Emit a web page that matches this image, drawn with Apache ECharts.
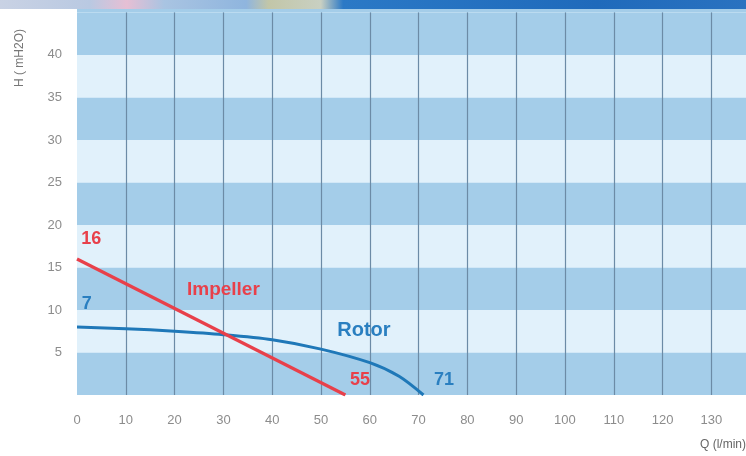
<!DOCTYPE html>
<html>
<head>
<meta charset="utf-8">
<script src="https://cdn.jsdelivr.net/npm/echarts@6/dist/echarts.min.js"></script>
<style>
html,body{margin:0;padding:0;background:#fff;}
#c{width:746px;height:456px;}
</style>
</head>
<body>
<div id="c"></div>
<script>
// ---- data ----
var xTicks = [0,10,20,30,40,50,60,70,80,90,100,110,120,130];
var yTicks = [5,10,15,20,25,30,35,40];
var impellerQ = [0, 55];
var impellerH = [16, 0];
var rotorQ = [0, 10, 20, 30, 40, 50, 60, 66, 71];
var rotorH = [8, 7.8, 7.5, 7.1, 6.5, 5.4, 3.8, 2.2, 0];
var impellerNotes = ['16', 'Impeller', '55'];
var impellerNoteQ = [2.9, 30.0, 58.0];
var impellerNoteH = [18.3, 12.4, 1.8];
var rotorNotes = ['7', 'Rotor', '71'];
var rotorNoteQ = [2.0, 58.8, 75.2];
var rotorNoteH = [10.7, 7.6, 1.8];

var X_MAX = 137.1, Y_MAX = 45.4;
var RED = '#e8404a', BLUE = '#1f78b8';
var DARK = '#a4cde9', LIGHT = '#e1f1fb';

function pairs(a, b){ return a.map(function(v,i){ return [v, b[i]]; }); }
function notes(t, q, h, color, sizes){
  return t.map(function(s,i){
    return {coord:[q[i], h[i]], value:s,
      label:{show:true, position:'inside', formatter:s, color:color,
        fontFamily:'Liberation Sans, Arial, sans-serif', fontWeight:'bold', fontSize:sizes[i]}};
  });
}

var chart = echarts.init(document.getElementById('c'), null, {renderer:'canvas'});
chart.setOption({
  animation:false,
  backgroundColor:'#ffffff',
  grid:{left:77, right:0, top:9, bottom:61, show:true, backgroundColor:LIGHT, borderWidth:0},
  xAxis:{
    type:'value', min:0, max:X_MAX, interval:10,
    axisLine:{show:false}, axisTick:{show:false},
    axisLabel:{color:'#8c8c8c', fontSize:13, fontFamily:'Liberation Sans, Arial, sans-serif', margin:19,
      showMaxLabel:false,
      formatter:function(v){ return xTicks.indexOf(v) >= 0 ? String(v) : ''; }},
    splitLine:{show:true, showMinLine:false, showMaxLine:false, lineStyle:{color:'#6c8ba6', width:1.2}}
  },
  yAxis:{
    type:'value', min:0, max:Y_MAX, interval:5,
    axisLine:{show:false}, axisTick:{show:false},
    axisLabel:{color:'#8c8c8c', fontSize:13, fontFamily:'Liberation Sans, Arial, sans-serif', margin:15,
      formatter:function(v){ return yTicks.indexOf(v) >= 0 ? String(v) : ''; }},
    splitLine:{show:false},
    splitArea:{show:true, areaStyle:{color:[DARK, LIGHT]}}
  },
  graphic:[
    {type:'rect', left:0, top:0, z:10, shape:{width:746, height:9},
      style:{fill:new echarts.graphic.LinearGradient(0,0,1,0,[
        {offset:0, color:'#c9d2e4'},{offset:0.12, color:'#b9c9e2'},{offset:0.17, color:'#e6bfd4'},
        {offset:0.22, color:'#a9c4e2'},{offset:0.33, color:'#8fb5de'},{offset:0.36, color:'#c2c6a8'},
        {offset:0.43, color:'#c9d0c2'},{offset:0.46, color:'#2b79c6'},{offset:0.8, color:'#1f6abb'},
        {offset:1, color:'#2a72c0'}])}},
    {type:'text', x:20, y:58, rotation:Math.PI/2, z:10,
      style:{text:'H ( mH2O)', fill:'#777', fontSize:12, fontFamily:'Liberation Sans, Arial, sans-serif',
        align:'center', verticalAlign:'middle'}},
    {type:'text', right:0, top:439, z:10,
      style:{text:'Q (l/min)', fill:'#666', fontSize:12, fontFamily:'Liberation Sans, Arial, sans-serif'}}
  ],
  series:[
    {type:'line', name:'Impeller', data:pairs(impellerQ, impellerH), symbol:'none',
      lineStyle:{color:RED, width:3.2}, z:3,
      markPoint:{symbol:'circle', symbolSize:0, data:notes(impellerNotes, impellerNoteQ, impellerNoteH, RED, [18,19,18])}},
    {type:'line', name:'Rotor', data:pairs(rotorQ, rotorH), symbol:'none', smooth:0.3,
      lineStyle:{color:BLUE, width:3}, z:2,
      markArea:{silent:true, itemStyle:{color:DARK}, data:[[{yAxis:45},{yAxis:Y_MAX}]]},
      markPoint:{symbol:'circle', symbolSize:0, data:notes(rotorNotes, rotorNoteQ, rotorNoteH, '#2a7fc0', [18,20,18])}}
  ]
});
</script>
</body>
</html>
